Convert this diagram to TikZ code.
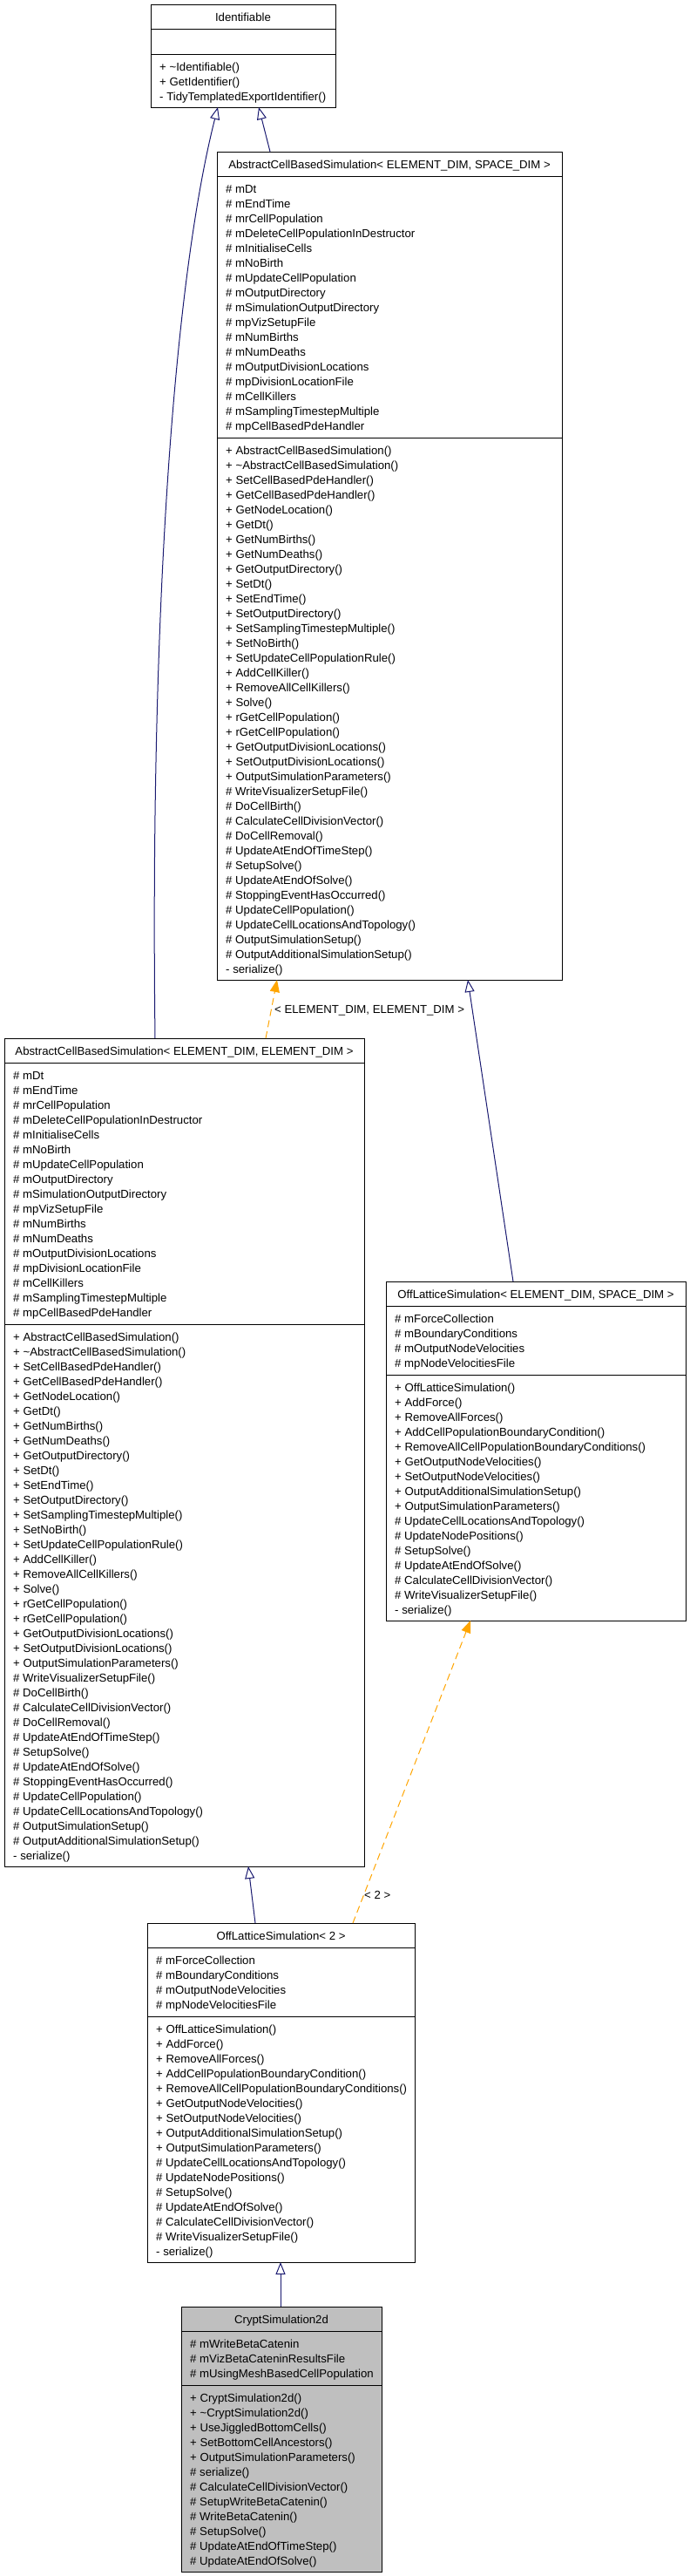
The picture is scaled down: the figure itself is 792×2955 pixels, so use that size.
\documentclass[tikz,border=0pt]{standalone}
\usepackage{fontspec}
\setmainfont{Liberation Sans}
\usetikzlibrary{arrows.meta,calc}
\definecolor{edgeblue}{HTML}{191970}
\definecolor{deporange}{HTML}{FFA500}
\definecolor{boxgrey}{HTML}{BFBFBF}
\tikzset{
  boxfill/.style={fill=white},
  classbox/.style={draw=black, line width=1pt, inner sep=0pt, outer sep=0pt, rectangle},
  memtext/.style={font=\fontsize{13.2}{15}\selectfont, inner sep=0pt, anchor=base west},
  titletext/.style={font=\fontsize{13.2}{15}\selectfont, inner sep=0pt, anchor=base},
  lbltext/.style={font=\fontsize{13.2}{15}\selectfont, inner sep=0pt, anchor=base west},
  sepline/.style={line width=1pt},
  inherit/.style={draw=edgeblue, line width=1pt, -{Triangle[open, length=14pt, width=11pt]}},
  tmpl/.style={draw=deporange, line width=1pt, dash pattern=on 8pt off 5pt, -{Triangle[length=14pt, width=11pt, fill=deporange]}}
}
\newcommand\LIdMeth{+ \textasciitilde Identifiable(), + GetIdentifier(), - TidyTemplatedExportIdentifier()}
\newcommand\LAbsAttr{\# mDt, \# mEndTime, \# mrCellPopulation, \# mDeleteCellPopulationInDestructor, \# mInitialiseCells, \# mNoBirth, \# mUpdateCellPopulation, \# mOutputDirectory, \# mSimulationOutputDirectory, \# mpVizSetupFile, \# mNumBirths, \# mNumDeaths, \# mOutputDivisionLocations, \# mpDivisionLocationFile, \# mCellKillers, \# mSamplingTimestepMultiple, \# mpCellBasedPdeHandler}
\newcommand\LAbsMeth{+ AbstractCellBasedSimulation(), + \textasciitilde AbstractCellBasedSimulation(), + SetCellBasedPdeHandler(), + GetCellBasedPdeHandler(), + GetNodeLocation(), + GetDt(), + GetNumBirths(), + GetNumDeaths(), + GetOutputDirectory(), + SetDt(), + SetEndTime(), + SetOutputDirectory(), + SetSamplingTimestepMultiple(), + SetNoBirth(), + SetUpdateCellPopulationRule(), + AddCellKiller(), + RemoveAllCellKillers(), + Solve(), + rGetCellPopulation(), + rGetCellPopulation(), + GetOutputDivisionLocations(), + SetOutputDivisionLocations(), + OutputSimulationParameters(), \# WriteVisualizerSetupFile(), \# DoCellBirth(), \# CalculateCellDivisionVector(), \# DoCellRemoval(), \# UpdateAtEndOfTimeStep(), \# SetupSolve(), \# UpdateAtEndOfSolve(), \# StoppingEventHasOccurred(), \# UpdateCellPopulation(), \# UpdateCellLocationsAndTopology(), \# OutputSimulationSetup(), \# OutputAdditionalSimulationSetup(), - serialize()}
\newcommand\LOffAttr{\# mForceCollection, \# mBoundaryConditions, \# mOutputNodeVelocities, \# mpNodeVelocitiesFile}
\newcommand\LOffMeth{+ OffLatticeSimulation(), + AddForce(), + RemoveAllForces(), + AddCellPopulationBoundaryCondition(), + RemoveAllCellPopulationBoundaryConditions(), + GetOutputNodeVelocities(), + SetOutputNodeVelocities(), + OutputAdditionalSimulationSetup(), + OutputSimulationParameters(), \# UpdateCellLocationsAndTopology(), \# UpdateNodePositions(), \# SetupSolve(), \# UpdateAtEndOfSolve(), \# CalculateCellDivisionVector(), \# WriteVisualizerSetupFile(), - serialize()}
\newcommand\LCryAttr{\# mWriteBetaCatenin, \# mVizBetaCateninResultsFile, \# mUsingMeshBasedCellPopulation}
\newcommand\LCryMeth{+ CryptSimulation2d(), + \textasciitilde CryptSimulation2d(), + UseJiggledBottomCells(), + SetBottomCellAncestors(), + OutputSimulationParameters(), \# serialize(), \# CalculateCellDivisionVector(), \# SetupWriteBetaCatenin(), \# WriteBetaCatenin(), \# SetupSolve(), \# UpdateAtEndOfTimeStep(), \# UpdateAtEndOfSolve()}
% name, left, right, top, nAttr, nMeth, title, attr-list macro, method-list macro
\newcommand\umlclass[9]{%
  \pgfmathsetmacro\ucW{#3-#2}%
  \pgfmathsetmacro\ucAS{#5==0 ? #4+57 : #4+39+17*#5}%
  \pgfmathsetmacro\ucB{\ucAS+10+17*#6}%
  \pgfmathsetmacro\ucH{\ucB-#4}%
  \node[classbox, boxfill, anchor=north west, minimum width=\ucW pt, minimum height=\ucH pt] (#1) at (#2,#4) {};
  \draw[sepline] (#2,#4+28) -- (#3,#4+28);
  \draw[sepline] (#2,\ucAS) -- (#3,\ucAS);
  \node[titletext] (#1-title) at ({(#2+#3)/2},#4+19) {#7};
  \ifnum#5>0
    \foreach \mline [count=\k] in #8 {\node[memtext] (#1-a\k) at (#2+10,#4+30+17*\k) {\mline};}
  \fi
  \foreach \mline [count=\k] in #9 {\node[memtext] (#1-m\k) at (#2+10,\ucAS+2+17*\k) {\mline};}
}
\begin{document}
\begin{tikzpicture}[x=1pt,y=-1pt]
\path[use as bounding box, fill=white] (0,0) rectangle (792,2955);

\umlclass{ident}{173}{385}{5}{0}{3}{Identifiable}{}{\LIdMeth}
\umlclass{absES}{249}{645}{174}{17}{36}{AbstractCellBasedSimulation< ELEMENT\_DIM, SPACE\_DIM >}{\LAbsAttr}{\LAbsMeth}
\umlclass{absEE}{5}{418}{1191}{17}{36}{AbstractCellBasedSimulation< ELEMENT\_DIM, ELEMENT\_DIM >}{\LAbsAttr}{\LAbsMeth}
\umlclass{offLES}{443}{787}{1470}{4}{16}{OffLatticeSimulation< ELEMENT\_DIM, SPACE\_DIM >}{\LOffAttr}{\LOffMeth}
\umlclass{offL2}{169}{476}{2206}{4}{16}{OffLatticeSimulation< 2 >}{\LOffAttr}{\LOffMeth}
\tikzset{boxfill/.style={fill=boxgrey}}
\umlclass{crypt}{208}{438}{2646}{3}{12}{CryptSimulation2d}{\LCryAttr}{\LCryMeth}

% inheritance and template-instance connectors
\draw[inherit] ($(absES.north west)+(61,0)$) -- ($(ident.south west)+(124,0)$);
\draw[inherit] ($(absEE.north west)+(173,0)$) .. controls (172,700) and (200,320) .. ($(ident.south west)+(77,0)$);
\draw[tmpl] ($(absEE.north west)+(300,0)$) -- ($(absES.south west)+(69,0)$);
\node[lbltext] (lblEE) at (315,1162) {< ELEMENT\_DIM, ELEMENT\_DIM >};
\draw[inherit] ($(offLES.north west)+(146,0)$) -- ($(absES.south west)+(288,0)$);
\draw[inherit] ($(offL2.north west)+(124,0)$) -- ($(absEE.south west)+(280,0)$);
\draw[tmpl] ($(offL2.north west)+(236,0)$) -- ($(offLES.south west)+(97,0)$);
\node[lbltext] (lbl2) at (418,2178) {< 2 >};
\draw[inherit] ($(crypt.north west)+(114,0)$) -- ($(offL2.south west)+(153,0)$);
\end{tikzpicture}
\end{document}
